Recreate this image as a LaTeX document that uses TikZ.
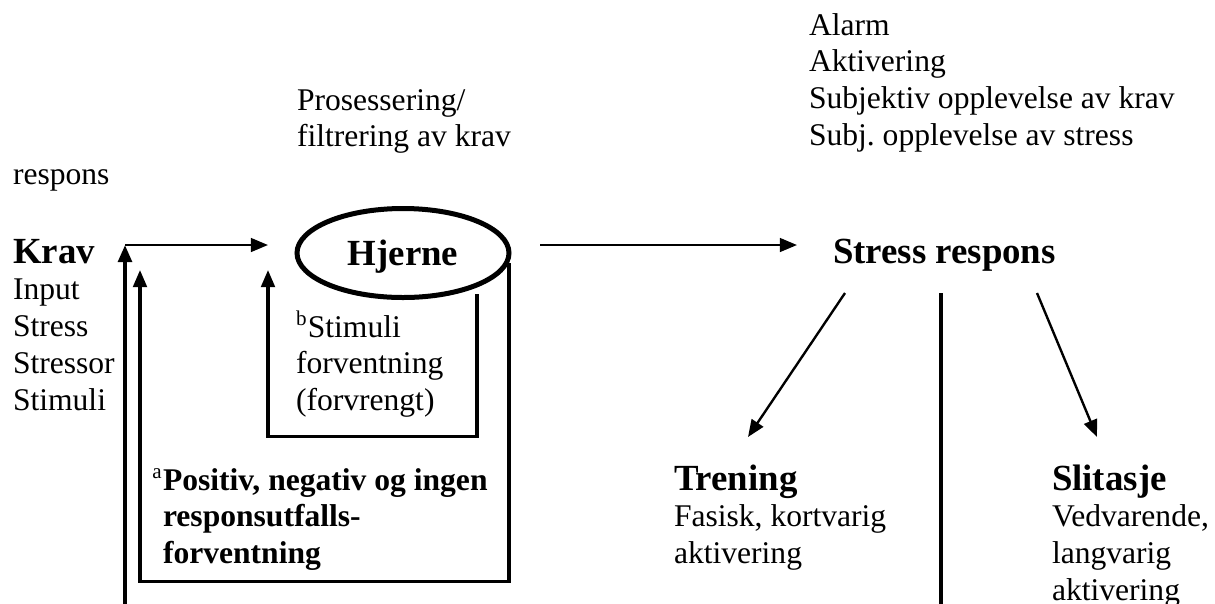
\documentclass[tikz,border=0pt]{standalone}
\usepackage{fontspec}
\setmainfont{Liberation Serif}
\usetikzlibrary{arrows.meta,shapes.geometric}
\newcommand\myNorm{\fontsize{12}{14}\selectfont}
\newcommand\myHead{\fontsize{14}{14}\selectfont\bfseries}
\newcommand\myBlk[1]{\begin{tabular}[t]{@{}l@{}}#1\end{tabular}}
\begin{document}
\begin{tikzpicture}[x=0.38pt,y=-0.38pt,
  txt/.style={anchor=base west,inner sep=0pt,outer sep=0pt,font=\myNorm},
  arr/.style={-{Triangle[length=6.5pt,width=5.2pt]}},
  thinln/.style={line width=0.9pt},
  boxln/.style={line width=1.15pt},
  thickln/.style={line width=1.4pt}]
\useasboundingbox (0,0) rectangle (1215,603);

% texts
\node[txt] (alarm) at (809,35) {\myBlk{Alarm\\Aktivering\\Subjektiv opplevelse av krav\\Subj.\ opplevelse av stress}};
\node[txt] (pros) at (297,110) {\myBlk{Prosessering/\\filtrering av krav}};
\node[txt] (resp) at (13,184) {respons};
\node[txt] (krav) at (13,263) {\myBlk{{\myHead Krav}\\Input\\Stress\\Stressor\\Stimuli}};
\node[ellipse,draw,line width=1.9pt,minimum width=212*0.38pt,minimum height=89*0.38pt,inner sep=0pt] (hj) at (403,253) {};
\node[txt,anchor=base,font=\myHead] (hjt) at (403,265) {Hjerne};
\node[txt,font=\myHead] (sr) at (833,263) {Stress respons};
\node[txt] (stim) at (296,337) {\myBlk{\textsuperscript{b}Stimuli\\forventning\\(forvrengt)}};
\node[txt,font=\fontsize{12}{14}\selectfont\bfseries] (pos) at (163,490) {\myBlk{\llap{\mdseries\textsuperscript{a}}Positiv, negativ og ingen\\responsutfalls-\\forventning}};
\node[txt] (tren) at (674,490) {\myBlk{{\myHead Trening}\\Fasisk, kortvarig\\aktivering}};
\node[txt] (slit) at (1052,490) {\myBlk{{\myHead Slitasje}\\Vedvarende,\\langvarig\\aktivering}};

% connector end points
\coordinate (kravIn) at (125,606);
\coordinate (kravTop) at (125,245);
\coordinate (hjIn) at (268,245);
\coordinate (bA1) at (509,263);
\coordinate (bA2) at (509,581);
\coordinate (bA3) at (140,581);
\coordinate (bA4) at (140,270);
\coordinate (bB1) at (477,294);
\coordinate (bB2) at (477,436);
\coordinate (bB3) at (268,436);
\coordinate (bB4) at (268,270);
\coordinate (hjOut) at (540,245);
\coordinate (srIn) at (797,245);
\coordinate (trA) at (845,293);
\coordinate (trB) at (748,437);
\coordinate (slA) at (1037,293);
\coordinate (slB) at (1097,437);
\coordinate (midA) at (941,293);
\coordinate (midB) at (941,606);

% connectors
\draw[arr,thickln] (kravIn) -- (kravTop);
\draw[arr,thinln] (kravTop) -- (hjIn);
\draw[arr,boxln] (bA1) -- (bA2) -- (bA3) -- (bA4);
\draw[arr,boxln] (bB1) -- (bB2) -- (bB3) -- (bB4);
\draw[arr,thinln] (hjOut) -- (srIn);
\draw[arr,thinln] (trA) -- (trB);
\draw[arr,thinln] (slA) -- (slB);
\draw[thickln] (midA) -- (midB);
\end{tikzpicture}
\end{document}
